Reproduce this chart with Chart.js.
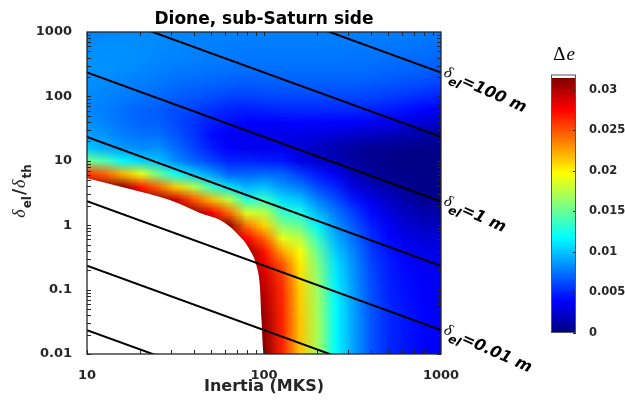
<!DOCTYPE html>
<html>
<head>
<meta charset="utf-8">
<script src="https://cdn.jsdelivr.net/npm/chart.js@4.4.1/dist/chart.umd.min.js"></script>
<style>
  html, body { margin: 0; padding: 0; background: #fff; }
  #wrap { position: relative; width: 625px; height: 407px; }
  #plot { position: absolute; left: 0; top: 0; }
  #cbar { position: absolute; left: 551px; top: 40px; }
</style>
</head>
<body>
<div id="wrap">
  <canvas id="plot" width="625" height="407"></canvas>
  <canvas id="cbar" width="74" height="310"></canvas>
</div>
<script>
// sample positions of the field (Inertia, delta_el/delta_th)
const inertiaGrid = [10, 12.59, 15.85, 19.95, 25.12, 31.62, 39.81, 50.12, 63.1, 79.43, 100,
                     125.9, 158.5, 199.5, 251.2, 316.2, 398.1, 501.2, 631, 794.3, 1000];
const ratioGrid = [1000, 631, 398.1, 251.2, 158.5, 100, 63.1, 39.81, 25.12, 15.85, 10, 6.31,
                   3.981, 2.512, 1.585, 1, 0.631, 0.3981, 0.2512, 0.1585, 0.1, 0.0631, 0.03981,
                   0.02512, 0.01585, 0.01];

// delta e (x 1e-3), one row per ratioGrid value, one column per inertiaGrid value
const deltaE = [
  [8.0, 8.1, 8.2, 8.2, 8.2, 8.1, 8.0, 8.0, 8.0, 7.9, 7.9, 7.9, 7.9, 7.9, 7.9, 7.9, 7.9, 7.8, 7.8, 7.7, 7.6],
  [8.2, 8.4, 8.4, 8.3, 8.2, 8.1, 8.0, 7.9, 7.8, 7.8, 7.8, 7.8, 7.8, 7.8, 7.8, 7.7, 7.7, 7.6, 7.6, 7.5, 7.4],
  [8.4, 8.5, 8.4, 8.3, 8.1, 8.0, 7.9, 7.8, 7.7, 7.6, 7.6, 7.6, 7.6, 7.6, 7.6, 7.5, 7.5, 7.4, 7.3, 7.2, 7.1],
  [8.5, 8.4, 8.3, 8.1, 7.9, 7.7, 7.6, 7.5, 7.4, 7.3, 7.3, 7.3, 7.3, 7.3, 7.3, 7.3, 7.2, 7.1, 7.0, 6.9, 6.7],
  [8.4, 8.2, 8.0, 7.8, 7.6, 7.3, 7.1, 7.0, 6.8, 6.7, 6.8, 6.8, 6.8, 6.8, 6.8, 6.8, 6.7, 6.6, 6.4, 6.2, 5.9],
  [8.2, 8.0, 7.8, 7.5, 7.2, 6.8, 6.6, 6.3, 6.0, 5.9, 6.1, 6.1, 6.1, 6.1, 6.1, 6.1, 6.0, 5.8, 5.5, 5.2, 4.9],
  [8.1, 7.8, 7.4, 7.0, 6.8, 6.3, 5.9, 5.4, 5.0, 4.8, 5.0, 5.1, 5.2, 5.2, 5.2, 5.1, 5.0, 4.7, 4.4, 4.0, 3.6],
  [8.4, 8.0, 7.5, 7.0, 6.9, 6.2, 5.5, 4.8, 4.3, 4.0, 3.9, 3.9, 4.0, 4.0, 3.9, 3.8, 3.6, 3.3, 3.0, 2.6, 2.3],
  [8.9, 8.5, 7.9, 7.5, 7.4, 6.6, 5.6, 4.2, 3.6, 3.4, 3.4, 3.2, 3.1, 3.0, 2.6, 2.3, 2.0, 1.7, 1.4, 1.2, 1.0],
  [10.2, 9.3, 8.7, 8.3, 8.4, 7.3, 6.0, 4.8, 3.8, 3.4, 3.4, 3.4, 2.8, 2.0, 1.4, 1.0, 0.6, 0.5, 0.4, 0.3, 0.4],
  [15.5, 14.2, 11.7, 10.5, 10.0, 8.3, 7.0, 6.0, 5.0, 5.0, 4.8, 4.6, 3.3, 2.5, 1.8, 1.0, 0.5, 0.3, 0.2, 0.2, 0.3],
  [26, 24.5, 22, 19, 15.2, 12, 10.3, 8.8, 7.0, 7.0, 7.2, 7.0, 5.8, 4.6, 3.5, 1.8, 1.0, 0.5, 0.3, 0.2, 0.3],
  [31, 31, 31, 27, 24.4, 21.3, 17.5, 13.6, 10.9, 9.5, 10, 8.6, 7.8, 6.2, 5.0, 3.0, 2.0, 1.2, 0.6, 0.3, 0.4],
  [31, 31, 31, 31, 31, 29, 25, 22, 17.7, 13, 13.5, 10.8, 10, 7.9, 6.4, 4.6, 3.3, 2.1, 1.2, 0.7, 0.8],
  [31, 31, 31, 31, 31, 31, 31, 28, 24.3, 18.5, 17.5, 13.5, 12.5, 9.6, 7.6, 5.9, 4.2, 2.9, 1.9, 1.3, 1.3],
  [31, 31, 31, 31, 31, 31, 31, 31, 31, 24, 21, 16, 15, 11.5, 8.6, 6.7, 4.9, 3.6, 2.6, 2.0, 2.0],
  [31, 31, 31, 31, 31, 31, 31, 31, 31, 27.5, 24.5, 19, 17.5, 13.5, 9.5, 7.4, 5.4, 4.1, 3.2, 2.7, 2.8],
  [31, 31, 31, 31, 31, 31, 31, 31, 31, 31, 27, 22.5, 19.4, 15, 10.3, 8.0, 5.8, 4.5, 3.7, 3.2, 3.2],
  [31, 31, 31, 31, 31, 31, 31, 31, 31, 31, 28, 25, 20.3, 15.8, 11, 8.4, 6.1, 4.8, 4.0, 3.5, 3.4],
  [31, 31, 31, 31, 31, 31, 31, 31, 31, 31, 29, 25.8, 20.8, 16.3, 11.3, 8.6, 6.3, 4.9, 4.2, 3.7, 3.5],
  [31, 31, 31, 31, 31, 31, 31, 31, 31, 31, 29.5, 26.3, 21.1, 16.6, 11.6, 8.8, 6.4, 5.0, 4.3, 3.8, 3.6],
  [31, 31, 31, 31, 31, 31, 31, 31, 31, 31, 30, 26.4, 21.3, 16.8, 11.7, 8.9, 6.5, 5.1, 4.4, 3.9, 3.6],
  [31, 31, 31, 31, 31, 31, 31, 31, 31, 31, 30.5, 26.5, 21.4, 16.9, 11.8, 9.0, 6.6, 5.2, 4.5, 4.0, 3.6],
  [31, 31, 31, 31, 31, 31, 31, 31, 31, 31, 30.8, 26.5, 21.5, 17, 11.8, 9.0, 6.6, 5.2, 4.5, 4.0, 3.6],
  [31, 31, 31, 31, 31, 31, 31, 31, 31, 31, 31, 26.5, 21.5, 17, 11.8, 9.0, 6.6, 5.2, 4.5, 4.0, 3.6],
  [31, 31, 31, 31, 31, 31, 31, 31, 31, 31, 31.3, 26.5, 21.5, 17, 11.8, 9.0, 6.6, 5.2, 4.5, 4.0, 3.6]
];

// edge of the blank (white) region
const blankX = [10, 16.8, 29.4, 33.5, 43.5, 56.4, 70.2, 83.4, 91, 94.8, 96.8, 99, 99.5];
const blankY = [5.35, 3.74, 2.46, 2.13, 1.55, 1.2, 0.75, 0.41, 0.227, 0.111, 0.034, 0.0109, 0.01];

// constant delta_el lines, value at Inertia = 10 and at Inertia = 1000
const lineStartY = [0.0235, 0.235, 2.35, 23.5, 235, 2350, 23500];
const lineEndY = [0.000235, 0.00235, 0.0235, 0.235, 2.35, 23.5, 235];
const lineLabels = ['', '', '0.01 m', '', '1 m', '', '100 m'];

const xTicks = [10, 100, 1000];
const yTicks = [0.01, 0.1, 1, 10, 100, 1000];
const cbTicks = [0, 0.005, 0.01, 0.015, 0.02, 0.025, 0.03];
const cMax = 0.0315;
const cbTop = 0.0319;

const inkColor = '#262626';

function jet(f) {
    f = Math.min(1, Math.max(0, f));
    const c = v => Math.round(255 * Math.min(1, Math.max(0, v)));
    return [c(1.5 - Math.abs(4 * f - 3)), c(1.5 - Math.abs(4 * f - 2)), c(1.5 - Math.abs(4 * f - 1))];
}

// field painted under the datasets
const fieldPlugin = {
    id: 'field',
    beforeDatasetsDraw(chart) {
        const { ctx, chartArea, scales: { x, y } } = chart;
        const nx = inertiaGrid.length, ny = ratioGrid.length;
        const off = document.createElement('canvas');
        off.width = nx;
        off.height = ny;
        const octx = off.getContext('2d');
        const img = octx.createImageData(nx, ny);
        for (let j = 0; j < ny; j++) {
            for (let i = 0; i < nx; i++) {
                const c = jet(deltaE[j][i] / 1000 / cMax);
                const k = (j * nx + i) * 4;
                img.data[k] = c[0];
                img.data[k + 1] = c[1];
                img.data[k + 2] = c[2];
                img.data[k + 3] = 255;
            }
        }
        octx.putImageData(img, 0, 0);
        const x0 = inertiaGrid[0] * Math.sqrt(inertiaGrid[0] / inertiaGrid[1]);
        const x1 = inertiaGrid[nx - 1] * Math.sqrt(inertiaGrid[nx - 1] / inertiaGrid[nx - 2]);
        const y0 = ratioGrid[0] * Math.sqrt(ratioGrid[0] / ratioGrid[1]);
        const y1 = ratioGrid[ny - 1] * Math.sqrt(ratioGrid[ny - 1] / ratioGrid[ny - 2]);
        const px0 = x.getPixelForValue(x0), px1 = x.getPixelForValue(x1);
        const py0 = y.getPixelForValue(y0), py1 = y.getPixelForValue(y1);
        ctx.save();
        ctx.beginPath();
        ctx.rect(chartArea.left, chartArea.top, chartArea.width, chartArea.height);
        ctx.clip();
        ctx.imageSmoothingEnabled = true;
        ctx.imageSmoothingQuality = 'low';
        ctx.drawImage(off, px0, py0, px1 - px0, py1 - py0);
        ctx.restore();
    }
};

function measurePieces(ctx, pieces) {
    let total = 0;
    pieces.forEach(p => { ctx.font = p.font; p.w = ctx.measureText(p.t).width; total += p.w; });
    return total;
}

// frame, ticks, title and the text with sub-scripts
const decorPlugin = {
    id: 'decor',
    afterDatasetsDraw(chart) {
        const { ctx, chartArea: a, scales: { x, y } } = chart;
        ctx.save();
        ctx.strokeStyle = inkColor;
        ctx.lineWidth = 1;
        ctx.beginPath();
        // tick marks, pointing inward, on all four sides
        for (let e = 1; e < 3; e++) {
            for (let m = 1; m < 10; m++) {
                const px = Math.round(x.getPixelForValue(m * Math.pow(10, e))) + 0.5;
                ctx.moveTo(px, a.bottom); ctx.lineTo(px, a.bottom - 4);
                ctx.moveTo(px, a.top); ctx.lineTo(px, a.top + 4);
            }
        }
        for (let e = -2; e < 3; e++) {
            for (let m = 1; m < 10; m++) {
                const py = Math.round(y.getPixelForValue(m * Math.pow(10, e))) + 0.5;
                ctx.moveTo(a.left, py); ctx.lineTo(a.left + 4, py);
                ctx.moveTo(a.right, py); ctx.lineTo(a.right - 4, py);
            }
        }
        ctx.stroke();
        ctx.lineWidth = 1.3;
        ctx.strokeRect(a.left, a.top, a.right - a.left, a.bottom - a.top);
        ctx.restore();
    },
    afterDraw(chart) {
        const { ctx, chartArea: a, scales: { x, y } } = chart;
        ctx.save();
        ctx.fillStyle = '#000';
        ctx.textAlign = 'center';
        ctx.textBaseline = 'alphabetic';
        ctx.font = 'bold 17px "DejaVu Sans"';
        ctx.fillText('Dione, sub-Saturn side', (a.left + a.right) / 2, 24);

        // y axis title: delta_el / delta_th
        const main = 'italic 18px "Liberation Serif"';
        const sub = 'bold 12px "DejaVu Sans"';
        const pieces = [
            { t: 'δ', font: main, dy: 0 },
            { t: 'el', font: sub, dy: 6 },
            { t: '/', font: 'bold 17px "DejaVu Sans"', dy: 0 },
            { t: 'δ', font: main, dy: 0 },
            { t: 'th', font: sub, dy: 6 }
        ];
        const total = measurePieces(ctx, pieces);
        ctx.translate(25, (a.top + a.bottom) / 2);
        ctx.rotate(-Math.PI / 2);
        ctx.fillStyle = inkColor;
        ctx.textAlign = 'left';
        let cx = -total / 2;
        pieces.forEach(p => { ctx.font = p.font; ctx.fillText(p.t, cx, p.dy); cx += p.w + 1; });
        ctx.restore();

        // labels at the right end of the delta_el lines
        lineLabels.forEach((lab, k) => {
            if (!lab) return;
            const px = x.getPixelForValue(1000) + 2;
            const py = y.getPixelForValue(lineEndY[k]) + 3;
            ctx.save();
            ctx.translate(px, py);
            ctx.rotate(24 * Math.PI / 180);
            ctx.fillStyle = '#000';
            ctx.textAlign = 'left';
            ctx.textBaseline = 'alphabetic';
            ctx.font = 'italic 16px "Liberation Serif"';
            ctx.fillText('δ', 0, 0);
            let w = ctx.measureText('δ').width;
            ctx.font = 'bold italic 12px "DejaVu Sans"';
            ctx.fillText('el', w, 6);
            w += ctx.measureText('el').width;
            ctx.font = 'bold italic 16px "DejaVu Sans"';
            ctx.fillText('=' + lab, w, 1);
            ctx.restore();
        });
    }
};

const lineSets = lineStartY.map((v, k) => ({
    type: 'line',
    data: [{ x: 10, y: v }, { x: 1000, y: lineEndY[k] }],
    borderColor: '#000',
    borderWidth: 2,
    pointRadius: 0,
    fill: false,
    order: 0
}));

const blankSet = {
    type: 'line',
    data: blankX.map((v, k) => ({ x: v, y: blankY[k] })),
    borderColor: 'rgba(0,0,0,0)',
    borderWidth: 0,
    backgroundColor: '#ffffff',
    pointRadius: 0,
    fill: 'start',
    cubicInterpolationMode: 'monotone',
    order: 5
};

const tickFont = { family: 'DejaVu Sans', weight: 'bold', size: 13 };

new Chart(document.getElementById('plot'), {
    type: 'line',
    data: { datasets: [...lineSets, blankSet] },
    options: {
        responsive: false,
        animation: false,
        events: [],
        layout: { padding: { left: 0, right: 184, top: 32, bottom: 0 } },
        plugins: { legend: { display: false }, tooltip: { enabled: false }, title: { display: false } },
        scales: {
            x: {
                type: 'logarithmic', min: 10, max: 1000, position: 'bottom',
                grid: { display: false }, border: { display: false },
                afterBuildTicks: s => { s.ticks = xTicks.map(v => ({ value: v })); },
                afterFit: s => { s.height = 53; },
                ticks: { autoSkip: false, maxRotation: 0, padding: 6, color: inkColor, font: tickFont, callback: v => String(v) },
                title: {
                    display: true, text: 'Inertia (MKS)', color: inkColor,
                    font: { family: 'DejaVu Sans', weight: 'bold', size: 16 },
                    padding: { top: 0, bottom: 11 }
                }
            },
            y: {
                type: 'logarithmic', min: 0.01, max: 1000, position: 'left',
                grid: { display: false }, border: { display: false },
                afterBuildTicks: s => { s.ticks = yTicks.map(v => ({ value: v })); },
                afterFit: s => { s.width = 87; },
                ticks: { autoSkip: false, padding: 7, color: inkColor, font: tickFont, callback: v => String(v) }
            }
        }
    },
    plugins: [fieldPlugin, decorPlugin]
});

// colour bar
const cbPlugin = {
    id: 'cbpaint',
    beforeDatasetsDraw(chart) {
        const { ctx, chartArea: a, scales: { y } } = chart;
        ctx.save();
        for (let py = Math.floor(a.top); py < a.bottom; py++) {
            const v = y.getValueForPixel(py + 0.5);
            const c = v > cMax ? [255, 255, 255] : jet(v / cMax);
            ctx.fillStyle = `rgb(${c[0]},${c[1]},${c[2]})`;
            ctx.fillRect(a.left, py, a.right - a.left, 1);
        }
        ctx.strokeStyle = inkColor;
        ctx.lineWidth = 1;
        ctx.beginPath();
        cbTicks.forEach(t => {
            const py = Math.round(y.getPixelForValue(t)) + 0.5;
            ctx.moveTo(a.right, py);
            ctx.lineTo(a.right - 3, py);
        });
        ctx.stroke();
        ctx.strokeStyle = '#555';
        ctx.strokeRect(a.left + 0.5, a.top + 0.5, a.right - a.left - 1, a.bottom - a.top - 1);

        // colour bar title
        const cx = (a.left + a.right) / 2;
        ctx.fillStyle = '#000';
        ctx.textBaseline = 'alphabetic';
        ctx.textAlign = 'left';
        ctx.font = '19px "Liberation Serif"';
        const w1 = ctx.measureText('Δ').width;
        ctx.font = 'italic 19px "Liberation Serif"';
        const w2 = ctx.measureText('e').width;
        ctx.font = '19px "Liberation Serif"';
        ctx.fillText('Δ', cx - (w1 + w2) / 2, 20);
        ctx.font = 'italic 19px "Liberation Serif"';
        ctx.fillText('e', cx - (w1 + w2) / 2 + w1 + 1, 20);
        ctx.restore();
    }
};

new Chart(document.getElementById('cbar'), {
    type: 'scatter',
    data: { datasets: [] },
    options: {
        responsive: false,
        animation: false,
        events: [],
        layout: { padding: { left: 0, right: 0, top: 34.5, bottom: 17 } },
        plugins: { legend: { display: false }, tooltip: { enabled: false } },
        scales: {
            x: { display: false, min: 0, max: 1 },
            y: {
                position: 'right', min: 0, max: cbTop,
                grid: { display: false }, border: { display: false },
                afterBuildTicks: s => { s.ticks = cbTicks.map(v => ({ value: v })); },
                afterFit: s => { s.width = 49; },
                ticks: { padding: 5, color: inkColor, font: { family: 'DejaVu Sans', weight: 'bold', size: 11.5 }, callback: v => String(v) }
            }
        }
    },
    plugins: [cbPlugin]
});
</script>
</body>
</html>
